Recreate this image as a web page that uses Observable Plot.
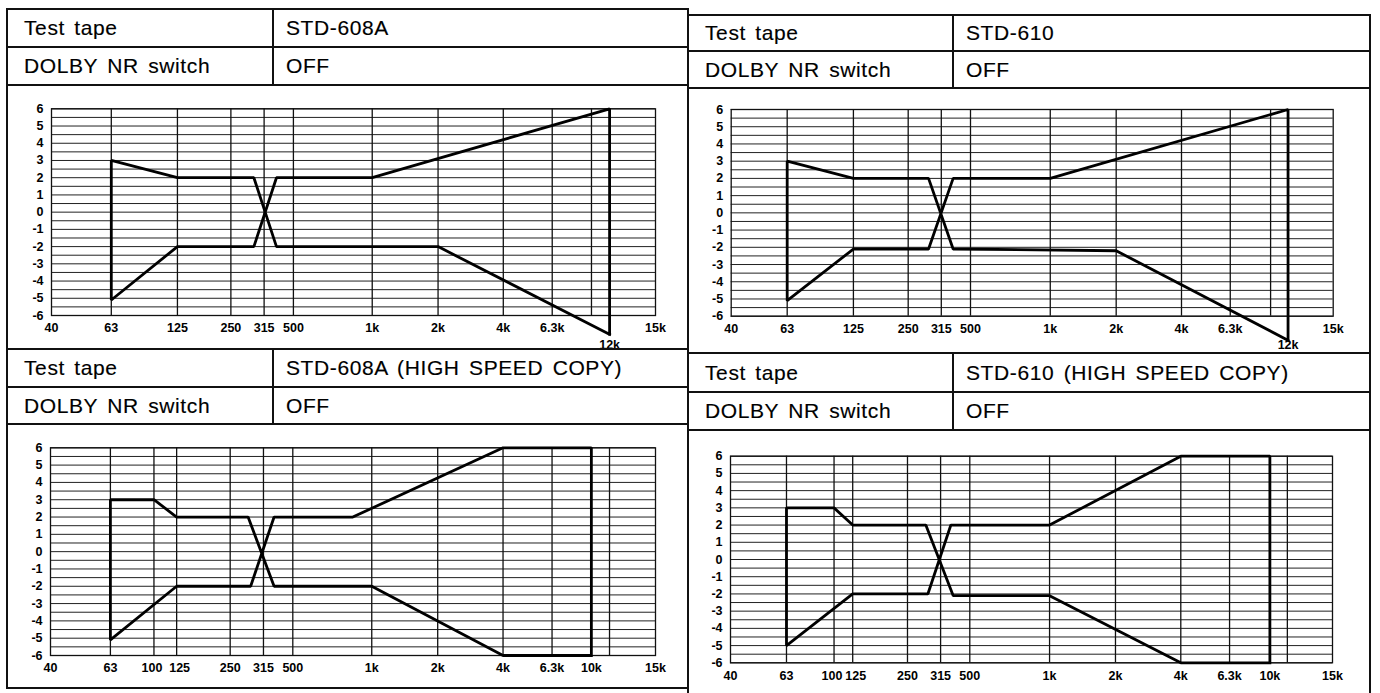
<!DOCTYPE html>
<html>
<head>
<meta charset="utf-8">
<script src="https://cdn.jsdelivr.net/npm/d3@7"></script>
<script src="https://cdn.jsdelivr.net/npm/@observablehq/plot@0.6"></script>
<style>
  html, body { margin: 0; padding: 0; background: #fff; }
  body { width: 1380px; height: 693px; overflow: hidden; position: relative; font-family: "Liberation Sans", Arial, sans-serif; }
  .ln { position: absolute; background: #111; }
  .cell { position: absolute; box-sizing: border-box; display: flex; align-items: center; font-size: 21px; letter-spacing: 0.6px; word-spacing: 3px; color: #000; white-space: nowrap; -webkit-text-stroke: 0.15px #000; }
  .plot { position: absolute; }
  .plot svg { overflow: visible; }
</style>
</head>
<body>
<script>
// ---------- data ----------
const headerLabels = ["Test tape", "DOLBY NR switch"];
const tapeNames = ["STD-608A", "STD-610", "STD-608A (HIGH SPEED COPY)", "STD-610 (HIGH SPEED COPY)"];
const dolbyValues = ["OFF", "OFF", "OFF", "OFF"];

const yTickValues = [-6, -5, -4, -3, -2, -1, 0, 1, 2, 3, 4, 5, 6];
const yGridValues = [-6, -5.5, -5, -4.5, -4, -3.5, -3, -2.5, -2, -1.5, -1, -0.5, 0, 0.5, 1, 1.5, 2, 2.5, 3, 3.5, 4, 4.5, 5, 5.5, 6];

const axisFreqs = [40, 63, 100, 125, 250, 315, 500, 1000, 2000, 4000, 6300, 10000, 12000, 15000];
const tickFreqsTop = [40, 63, 125, 250, 315, 500, 1000, 2000, 4000, 6300, 15000];
const tickFreqsBottom = [40, 63, 250, 315, 500, 1000, 2000, 4000, 6300, 10000, 15000];
const tickFreqsBottomLeftPair = [100];
const tickFreqsBottomRightPair = [125];
const lowTickFreqsTop = [12000];
const gridFreqsTop = [63, 125, 250, 315, 500, 1000, 2000, 4000, 6300, 10000, 12000];
const gridFreqsBottom = [63, 100, 125, 250, 315, 500, 1000, 2000, 4000, 6300, 10000, 12000];

// tolerance outlines (Hz, dB), each drawn as one continuous line
const p1Freq = [12000, 12000, 1000, 393, 295, 125, 63, 63, 125, 295, 393, 2000, 12000];
const p1Db   = [-7.1, 6, 2, 2, -2, -2, -5.1, 3, 2, 2, -2, -2, -7.1];
const p2Freq = [12000, 12000, 1000, 390, 290, 125, 63, 63, 125, 290, 390, 2000, 12000];
const p2Db   = [-7.4, 6, 2, 2, -2.1, -2.1, -5.1, 3, 2, 2, -2.1, -2.2, -7.4];
const p3Freq = [10000, 10000, 4000, 880, 382, 290, 125, 63, 63, 100, 125, 285, 382, 1000, 4000, 10000];
const p3Db   = [-6, 6, 6, 2, 2, -2, -2, -5.1, 3, 3, 2, 2, -2, -2, -6, -6];
const p4Freq = [10000, 10000, 4000, 1000, 380, 290, 125, 63, 63, 100, 125, 286, 395, 1000, 4000, 10000];
const p4Db   = [-6, 6, 6, 2, 2, -2, -2, -5, 3, 3, 2, 2, -2.1, -2.1, -6, -6];

// ---------- layout (scale / page geometry) ----------
// relative position of each axisFreqs entry along the printed frequency axis
const xFracLeft  = [0, 0.099, 0.171, 0.2085, 0.297, 0.352, 0.4005, 0.531, 0.640, 0.748, 0.829, 0.894, 0.924, 1];
const xFracRight = [0, 0.093, 0.172, 0.203, 0.294, 0.349, 0.3975, 0.530, 0.6395, 0.748, 0.829, 0.896, 0.925, 1];

const panels = [
  {left: 7,   top: 9,   right: 688,  bottom: 349, div: 273, rowH: [38, 38], plot: {l: 51,    r: 655,    t: 108.3, b: 315},   frac: xFracLeft,  top2: true,  freq: p1Freq, db: p1Db},
  {left: 688, top: 15,  right: 1370, bottom: 353, div: 953, rowH: [36, 37], plot: {l: 730.7, r: 1332.7, t: 109,   b: 315.7}, frac: xFracRight, top2: true,  freq: p2Freq, db: p2Db},
  {left: 7,   top: 349, right: 688,  bottom: 688, div: 273, rowH: [38, 37], plot: {l: 50,    r: 655,    t: 447.3, b: 655},   frac: xFracLeft,  top2: false, freq: p3Freq, db: p3Db},
  {left: 688, top: 353, right: 1370, bottom: 697, div: 953, rowH: [39, 38], plot: {l: 730,   r: 1332,   t: 455.7, b: 662.3}, frac: xFracRight, top2: false, freq: p4Freq, db: p4Db}
];

const LW = 2;
function hline(x1, x2, y, w = LW) {
  const d = document.createElement("div");
  d.className = "ln";
  Object.assign(d.style, {left: x1 + "px", top: (y - w / 2) + "px", width: (x2 - x1) + "px", height: w + "px"});
  document.body.appendChild(d);
}
function vline(x, y1, y2, w = LW) {
  const d = document.createElement("div");
  d.className = "ln";
  Object.assign(d.style, {left: (x - w / 2) + "px", top: y1 + "px", width: w + "px", height: (y2 - y1) + "px"});
  document.body.appendChild(d);
}
function cell(text, x, y, w, h, pad) {
  const d = document.createElement("div");
  d.className = "cell";
  Object.assign(d.style, {left: x + "px", top: y + "px", width: w + "px", height: h + "px", paddingLeft: pad + "px"});
  d.textContent = text;
  document.body.appendChild(d);
}
const fmtFreq = f => f >= 1000 ? (f / 1000) + "k" : String(f);
const axisFont = {fontFamily: "'Liberation Sans', Arial, sans-serif", fontSize: 12.5, fontWeight: "bold"};

panels.forEach((p, i) => {
  const hTop = p.top, hMid = p.top + p.rowH[0], hBot = hMid + p.rowH[1];
  // outline
  hline(p.left - 1, p.right + 1, p.top);
  hline(p.left - 1, p.right + 1, p.bottom);
  vline(p.left, p.top, p.bottom);
  vline(p.right, p.top, p.bottom);
  // header grid
  hline(p.left, p.right, hMid, 1.6);
  hline(p.left, p.right, hBot, 1.6);
  vline(p.div, hTop, hBot, 1.6);
  cell(headerLabels[0], p.left, hTop, p.div - p.left, p.rowH[0], 17);
  cell(tapeNames[i], p.div, hTop, p.right - p.div, p.rowH[0], 13);
  cell(headerLabels[1], p.left, hMid, p.div - p.left, p.rowH[1], 17);
  cell(dolbyValues[i], p.div, hMid, p.right - p.div, p.rowH[1], 13);

  // plot
  const svgTop = hBot, svgBottom = p.bottom;
  const W = p.right - p.left, H = svgBottom - svgTop;
  const mL = p.plot.l - p.left, mR = p.right - p.plot.r, mT = p.plot.t - svgTop, mB = svgBottom - p.plot.b;
  const range = p.frac.map(f => mL + f * (W - mL - mR));
  const pts = p.freq.map((f, k) => ({f, db: p.db[k]}));
  const marks = [
    Plot.ruleY(yGridValues, {stroke: "#222", strokeWidth: 1}),
    Plot.ruleX(p.top2 ? gridFreqsTop : gridFreqsBottom, {stroke: "#111", strokeWidth: 1.3}),
    Plot.frame({stroke: "#111", strokeWidth: 1.3}),
    Plot.axisY(yTickValues, {tickSize: 0, tickPadding: 8, tickFormat: d => String(d), label: null, ...axisFont}),
    Plot.axisX(p.top2 ? tickFreqsTop : tickFreqsBottom, {tickSize: 0, tickPadding: 8, tickFormat: fmtFreq, label: null, ...axisFont}),
    Plot.line(pts, {x: "f", y: "db", stroke: "#000", strokeWidth: 2.8, strokeLinejoin: "miter", strokeLinecap: "square"})
  ];
  if (p.top2) {
    marks.push(Plot.text(lowTickFreqsTop, {x: d => d, frameAnchor: "bottom", dy: 33, text: fmtFreq, fill: "#000", ...axisFont}));
  } else {
    marks.push(Plot.axisX(tickFreqsBottomLeftPair, {tickSize: 0, tickPadding: 8, tickFormat: fmtFreq, label: null, dx: -2, ...axisFont}));
    marks.push(Plot.axisX(tickFreqsBottomRightPair, {tickSize: 0, tickPadding: 8, tickFormat: fmtFreq, label: null, dx: 3, ...axisFont}));
  }
  const svg = Plot.plot({
    width: W, height: H,
    marginLeft: mL, marginRight: mR, marginTop: mT, marginBottom: mB,
    x: {type: "linear", domain: axisFreqs, range},
    y: {type: "linear", domain: [-6, 6]},
    style: {fontFamily: "'Liberation Sans', Arial, sans-serif", fontSize: "12.5px", fontWeight: "bold", color: "#000", background: "transparent", overflow: "visible"},
    marks
  });
  const holder = document.createElement("div");
  holder.className = "plot";
  Object.assign(holder.style, {left: p.left + "px", top: svgTop + "px"});
  holder.appendChild(svg);
  document.body.appendChild(holder);
});
</script>
</body>
</html>
